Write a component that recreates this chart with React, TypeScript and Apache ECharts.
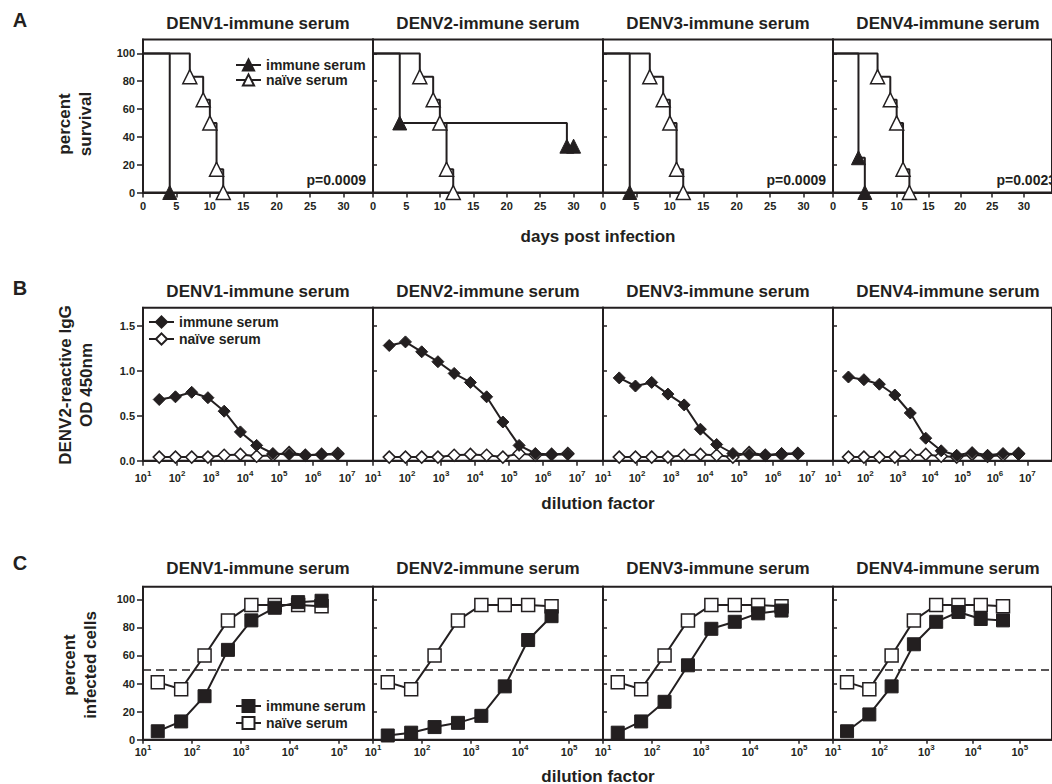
import React, { useEffect, useRef } from "react";
import * as echarts from "echarts";

// ---------------- data ----------------
const panelTitles = ["DENV1-immune serum", "DENV2-immune serum", "DENV3-immune serum", "DENV4-immune serum"];
const seriesLabels = ["immune serum", "naïve serum"];

// A: survival (days post infection, percent survival)
const survivalDaysImmune = [[0, 4], [0, 4, 29, 30], [0, 4], [0, 4, 5]];
const survivalPctImmune = [[100, 0], [100, 50, 33.3, 33.3], [100, 0], [100, 25, 0]];
const survivalDaysNaive = [0, 7, 9, 10, 11, 12];
const survivalPctNaive = [100, 83.3, 66.7, 50, 16.7, 0];
const pValues = ["p=0.0009", "", "p=0.0009", "p=0.0023"];
const dayTicks = [0, 5, 10, 15, 20, 25, 30];
const survivalTicks = [0, 20, 40, 60, 80, 100];

// B: DENV2-reactive IgG (OD 450nm) vs dilution factor
const elisaDilutions = [30, 90, 270, 810, 2430, 7290, 21870, 65610, 196830, 590490, 1771470, 5314410];
const elisaImmune = [
  [0.68, 0.71, 0.76, 0.7, 0.55, 0.32, 0.17, 0.08, 0.07, 0.06, 0.07, 0.07],
  [1.28, 1.32, 1.21, 1.1, 0.97, 0.87, 0.71, 0.43, 0.17, 0.08, 0.07, 0.07],
  [0.92, 0.83, 0.87, 0.74, 0.62, 0.35, 0.18, 0.08, 0.07, 0.06, 0.08, 0.08],
  [0.93, 0.9, 0.85, 0.73, 0.53, 0.25, 0.11, 0.06, 0.09, 0.06, 0.08, 0.07],
];
const elisaNaive = [
  [0.04, 0.04, 0.04, 0.04, 0.06, 0.07, 0.05, 0.06, 0.09, 0.06, 0.07, 0.08],
  [0.04, 0.04, 0.04, 0.04, 0.06, 0.07, 0.06, 0.04, 0.08, 0.06, 0.07, 0.08],
  [0.04, 0.04, 0.04, 0.04, 0.06, 0.07, 0.06, 0.04, 0.09, 0.06, 0.07, 0.08],
  [0.04, 0.04, 0.04, 0.04, 0.06, 0.07, 0.05, 0.04, 0.07, 0.05, 0.06, 0.08],
];
const odTicks = [0, 0.5, 1.0, 1.5];

// C: percent infected cells vs dilution factor
const infDilutions = [20, 60, 180, 540, 1620, 4860, 14580, 43740];
const infImmune = [
  [6, 13, 31, 64, 85, 94, 98, 99],
  [3, 5, 9, 12, 17, 38, 71, 88],
  [5, 13, 27, 53, 79, 84, 90, 92],
  [6, 18, 38, 68, 84, 91, 86, 85],
];
const infNaive = [
  [41, 36, 60, 85, 96, 96, 96, 95],
  [41, 36, 60, 85, 96, 96, 96, 95],
  [41, 36, 60, 85, 96, 96, 96, 95],
  [41, 36, 60, 85, 96, 96, 96, 95],
];
const infTicks = [0, 20, 40, 60, 80, 100];
const halfMaxLine = 50;

// ---------------- layout / style ----------------
const INK = "#231f20";
const FONT = "'Liberation Sans', Arial, Helvetica, sans-serif";
const PANEL_LEFT = [143, 373, 603, 833];
const PANEL_W = 230;
const ROW_TOP = [39.5, 307.7, 586.7];
const ROW_H = 153;
const ROW_LETTERS = ["A", "B", "C"];
const ROW_SUFFIX = ["A", "B", "C"];

function buildOption() {
  const grid: any[] = [];
  const xAxis: any[] = [];
  const yAxis: any[] = [];
  const series: any[] = [];
  const graphic: any[] = [];

  const tickLabelStyle = { color: INK, fontFamily: FONT, fontWeight: "bold", fontSize: 11 };
  const logLabel = (margin: number) => ({
    ...tickLabelStyle,
    margin,
    showMaxLabel: false,
    formatter: (v: number) => `{b|10}{s|${Math.round(Math.log10(v))}}`,
    rich: {
      b: { fontSize: 11, fontWeight: "bold", fontFamily: FONT, color: INK, lineHeight: 14, verticalAlign: "bottom" },
      s: { fontSize: 8, fontWeight: "bold", fontFamily: FONT, color: INK, verticalAlign: "top" },
    },
  });

  let k = 0;
  for (let row = 0; row < 3; row++) {
    for (let p = 0; p < 4; p++) {
      grid.push({
        left: PANEL_LEFT[p],
        top: ROW_TOP[row],
        width: PANEL_W,
        height: ROW_H,
        show: true,
        borderColor: INK,
        borderWidth: 2,
        backgroundColor: "transparent",
      });
      const axisLine = { show: true, onZero: false, lineStyle: { color: INK, width: 2 } };
      // x axis
      if (row === 0) {
        xAxis.push({
          type: "value", gridIndex: k, min: 0, max: 34.4,
          axisLine,
          axisTick: { show: true, length: 5, lineStyle: { color: INK, width: 1.5 }, customValues: dayTicks },
          axisLabel: { ...tickLabelStyle, margin: 8, customValues: dayTicks },
          splitLine: { show: false },
        });
      } else {
        xAxis.push({
          type: "log", logBase: 10, gridIndex: k, min: 10,
          max: row === 1 ? Math.pow(10, 7.76) : Math.pow(10, 5.69),
          axisLine,
          axisTick: { show: true, length: row === 1 ? 5 : 4, lineStyle: { color: INK, width: 1.5 } },
          axisLabel: logLabel(row === 1 ? 9 : 4),
          splitLine: { show: false },
          minorTick: { show: false },
        });
      }
      // y axis
      const yTicks = row === 0 ? survivalTicks : row === 1 ? odTicks : infTicks;
      const yMax = row === 0 ? 110 : row === 1 ? 1.7 : 109;
      yAxis.push({
        type: "value", gridIndex: k, min: 0, max: yMax,
        axisLine,
        axisTick: {
          show: true, inside: p > 0, length: p > 0 ? 4 : 6,
          lineStyle: { color: INK, width: 1.5 }, customValues: yTicks,
        },
        axisLabel: {
          ...tickLabelStyle, show: p === 0, margin: 8, customValues: yTicks,
          formatter: (v: number) => (row === 1 ? v.toFixed(1) : String(v)),
        },
        splitLine: { show: false },
      });

      const sfx = ROW_SUFFIX[row];
      const common = {
        type: "line", xAxisIndex: k, yAxisIndex: k, clip: false,
        showAllSymbol: true, animation: false,
        emphasis: { disabled: true }, silent: true,
        lineStyle: { color: INK, width: 2 },
      };
      if (row === 0) {
        const mk = (days: number[], pct: number[]) =>
          days.map((d, i) => (i === 0 ? { value: [d, pct[i]], symbol: "none" } : { value: [d, pct[i]] }));
        series.push({
          ...common, name: `${seriesLabels[0]}|${sfx}`, step: "end",
          symbol: "triangle", symbolSize: 14,
          itemStyle: { color: INK, borderColor: INK, borderWidth: 1 },
          data: mk(survivalDaysImmune[p], survivalPctImmune[p]), z: 3,
        });
        series.push({
          ...common, name: `${seriesLabels[1]}|${sfx}`, step: "end",
          symbol: "triangle", symbolSize: 14,
          itemStyle: { color: "#ffffff", borderColor: INK, borderWidth: 1.5 },
          data: mk(survivalDaysNaive, survivalPctNaive), z: 4,
        });
      } else if (row === 1) {
        series.push({
          ...common, name: `${seriesLabels[1]}|${sfx}`,
          symbol: "diamond", symbolSize: 12,
          itemStyle: { color: "#ffffff", borderColor: INK, borderWidth: 1.5 },
          data: elisaDilutions.map((d, i) => [d, elisaNaive[p][i]]), z: 3,
        });
        series.push({
          ...common, name: `${seriesLabels[0]}|${sfx}`,
          symbol: "diamond", symbolSize: 12,
          itemStyle: { color: INK, borderColor: INK, borderWidth: 1 },
          data: elisaDilutions.map((d, i) => [d, elisaImmune[p][i]]), z: 4,
        });
      } else {
        series.push({
          ...common, name: `${seriesLabels[1]}|${sfx}`,
          symbol: "rect", symbolSize: 13,
          itemStyle: { color: "#ffffff", borderColor: INK, borderWidth: 1.5 },
          data: infDilutions.map((d, i) => [d, infNaive[p][i]]), z: 3,
          markLine: {
            silent: true, symbol: "none", label: { show: false },
            lineStyle: { color: INK, type: [8, 5], width: 1.5 },
            data: [{ yAxis: halfMaxLine }],
          },
        });
        series.push({
          ...common, name: `${seriesLabels[0]}|${sfx}`,
          symbol: "rect", symbolSize: 13,
          itemStyle: { color: INK, borderColor: INK, borderWidth: 1 },
          data: infDilutions.map((d, i) => [d, infImmune[p][i]]), z: 4,
        });
      }

      // panel title
      graphic.push({
        type: "text", x: PANEL_LEFT[p] + PANEL_W / 2, y: [23.5, 291.5, 568][row],
        style: {
          text: panelTitles[p], fill: INK, font: `bold 17px ${FONT}`,
          align: "center", verticalAlign: "middle", textAlign: "center", textVerticalAlign: "middle",
        },
      });
      if (row === 0 && pValues[p]) {
        graphic.push({
          type: "text", x: PANEL_LEFT[p] + PANEL_W - 7, y: 180,
          style: {
            text: pValues[p], fill: INK, font: `bold 14px ${FONT}`,
            align: "right", verticalAlign: "middle", textAlign: "right", textVerticalAlign: "middle",
          },
        });
      }
      k++;
    }
    graphic.push({
      type: "text", x: 20, y: [20, 287.5, 562.5][row],
      style: {
        text: ROW_LETTERS[row], fill: INK, font: `bold 20px ${FONT}`,
        align: "center", verticalAlign: "middle", textAlign: "center", textVerticalAlign: "middle",
      },
    });
  }

  const yNames = [
    { text: "percent\nsurvival", x: 75, y: 124 },
    { text: "DENV2-reactive IgG\nOD 450nm", x: 76, y: 385 },
    { text: "percent\ninfected cells", x: 80, y: 665 },
  ];
  yNames.forEach((n) =>
    graphic.push({
      type: "text", x: n.x, y: n.y, rotation: Math.PI / 2,
      style: {
        text: n.text, fill: INK, font: `bold 17px ${FONT}`, lineHeight: 21,
        align: "center", verticalAlign: "middle", textAlign: "center", textVerticalAlign: "middle",
      },
    })
  );
  const xNames = [
    { text: "days post infection", y: 236 },
    { text: "dilution factor", y: 503 },
    { text: "dilution factor", y: 776 },
  ];
  xNames.forEach((n) =>
    graphic.push({
      type: "text", x: 598, y: n.y,
      style: {
        text: n.text, fill: INK, font: `bold 17px ${FONT}`,
        align: "center", verticalAlign: "middle", textAlign: "center", textVerticalAlign: "middle",
      },
    })
  );

  const legendBase = {
    orient: "vertical", padding: 0, selectedMode: false, itemWidth: 25,
    formatter: (name: string) => name.split("|")[0],
    textStyle: { color: INK, fontFamily: FONT, fontWeight: "bold", fontSize: 14, lineHeight: 14 },
  };
  const legend = [
    { ...legendBase, left: 235, top: 58, itemHeight: 14, itemGap: 1, data: [`${seriesLabels[0]}|A`, `${seriesLabels[1]}|A`] },
    { ...legendBase, left: 148, top: 315, itemHeight: 14, itemGap: 3, data: [`${seriesLabels[0]}|B`, `${seriesLabels[1]}|B`] },
    { ...legendBase, left: 235, top: 699, itemHeight: 15, itemGap: 3, data: [`${seriesLabels[0]}|C`, `${seriesLabels[1]}|C`] },
  ];

  return {
    animation: false,
    backgroundColor: "#ffffff",
    textStyle: { fontFamily: FONT },
    grid, xAxis, yAxis, series, graphic, legend,
  };
}

export default function App() {
  const ref = useRef<HTMLDivElement>(null);
  useEffect(() => {
    document.body.style.margin = "0";
    if (!ref.current) return;
    const chart = echarts.init(ref.current, undefined, { renderer: "svg" });
    chart.setOption(buildOption() as any);
    return () => chart.dispose();
  }, []);
  return <div ref={ref} style={{ position: "absolute", left: 0, top: 0, width: 1052, height: 784 }} />;
}
